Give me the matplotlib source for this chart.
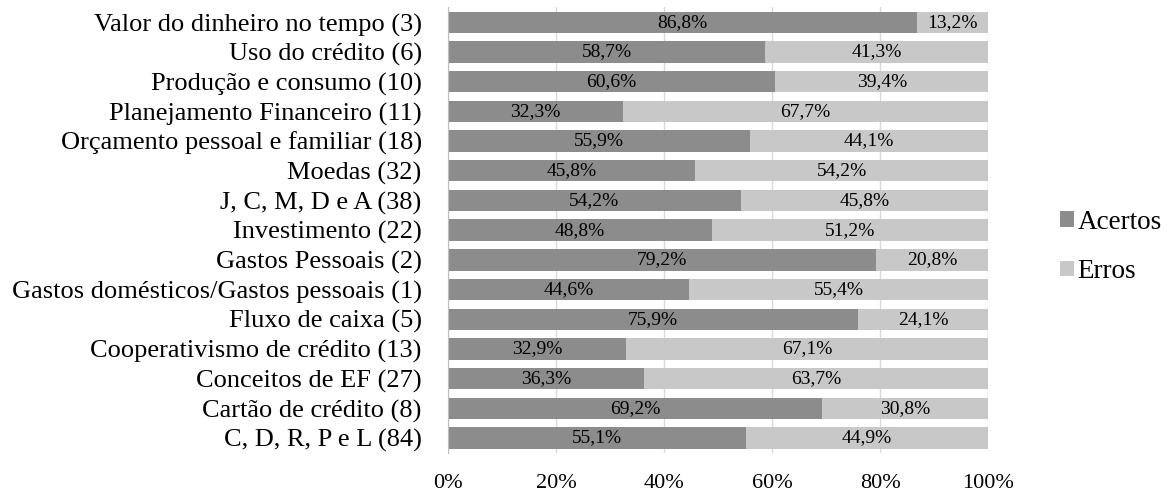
import numpy as np
import matplotlib.pyplot as plt

# ==============================
# DATA (top to bottom)
# ==============================

categorias = [
    "Valor do dinheiro no tempo (3)",
    "Uso do crédito (6)",
    "Produção e consumo (10)",
    "Planejamento Financeiro (11)",
    "Orçamento pessoal e familiar (18)",
    "Moedas (32)",
    "J, C, M, D e A (38)",
    "Investimento (22)",
    "Gastos Pessoais (2)",
    "Gastos domésticos/Gastos pessoais (1)",
    "Fluxo de caixa (5)",
    "Cooperativismo de crédito (13)",
    "Conceitos de EF (27)",
    "Cartão de crédito (8)",
    "C, D, R, P e L (84)",
]

acertos = [86.8, 58.7, 60.6, 32.3, 55.9, 45.8, 54.2, 48.8, 79.2, 44.6, 75.9, 32.9, 36.3, 69.2, 55.1]
erros = [13.2, 41.3, 39.4, 67.7, 44.1, 54.2, 45.8, 51.2, 20.8, 55.4, 24.1, 67.1, 63.7, 30.8, 44.9]

x_ticks = [0, 20, 40, 60, 80, 100]

# ==============================
# PLOT
# ==============================

plt.rcParams["font.family"] = ["Liberation Serif", "DejaVu Serif"]

COR_ACERTOS = "#8c8c8c"
COR_ERROS = "#c8c8c8"

fig = plt.figure(figsize=(11.7, 4.96), dpi=100)
ax = fig.add_axes([0.383, 0.087, 0.4615, 0.898])

y = np.arange(len(categorias))
ac = np.array(acertos)
er = np.array(erros)

ax.barh(y, ac, height=0.72, color=COR_ACERTOS, label="Acertos", zorder=2)
ax.barh(y, er, left=ac, height=0.72, color=COR_ERROS, label="Erros", zorder=2)

def fmt(v):
    return f"{v:.1f}%".replace(".", ",")

for i in range(len(categorias)):
    ax.text(ac[i] / 2, y[i], fmt(ac[i]), ha="center", va="center", fontsize=14, zorder=3)
    ax.text(ac[i] + er[i] / 2, y[i], fmt(er[i]), ha="center", va="center", fontsize=14, zorder=3)

ax.set_yticks(y)
ax.set_yticklabels(categorias, fontsize=19)
ax.set_ylim(len(categorias) - 0.5, -0.5)

ax.set_xlim(0, 100)
ax.set_xticks(x_ticks)
ax.set_xticklabels([f"{t}%" for t in x_ticks], fontsize=16)
ax.tick_params(axis="both", length=0)
ax.tick_params(axis="x", pad=15)
ax.tick_params(axis="y", pad=19)

ax.grid(axis="x", color="#d9d9d9", linewidth=1, zorder=0)
for s in ["top", "right", "bottom"]:
    ax.spines[s].set_visible(False)
ax.spines["left"].set_color("#bfbfbf")

ax.legend(loc="center left", bbox_to_anchor=(0.906, 0.502), bbox_transform=fig.transFigure,
          frameon=False, borderpad=0, borderaxespad=0, fontsize=19.5,
          handlelength=0.5, handleheight=0.5, handletextpad=0.15, labelspacing=0.9)

fig.savefig("out.png", dpi=100)
